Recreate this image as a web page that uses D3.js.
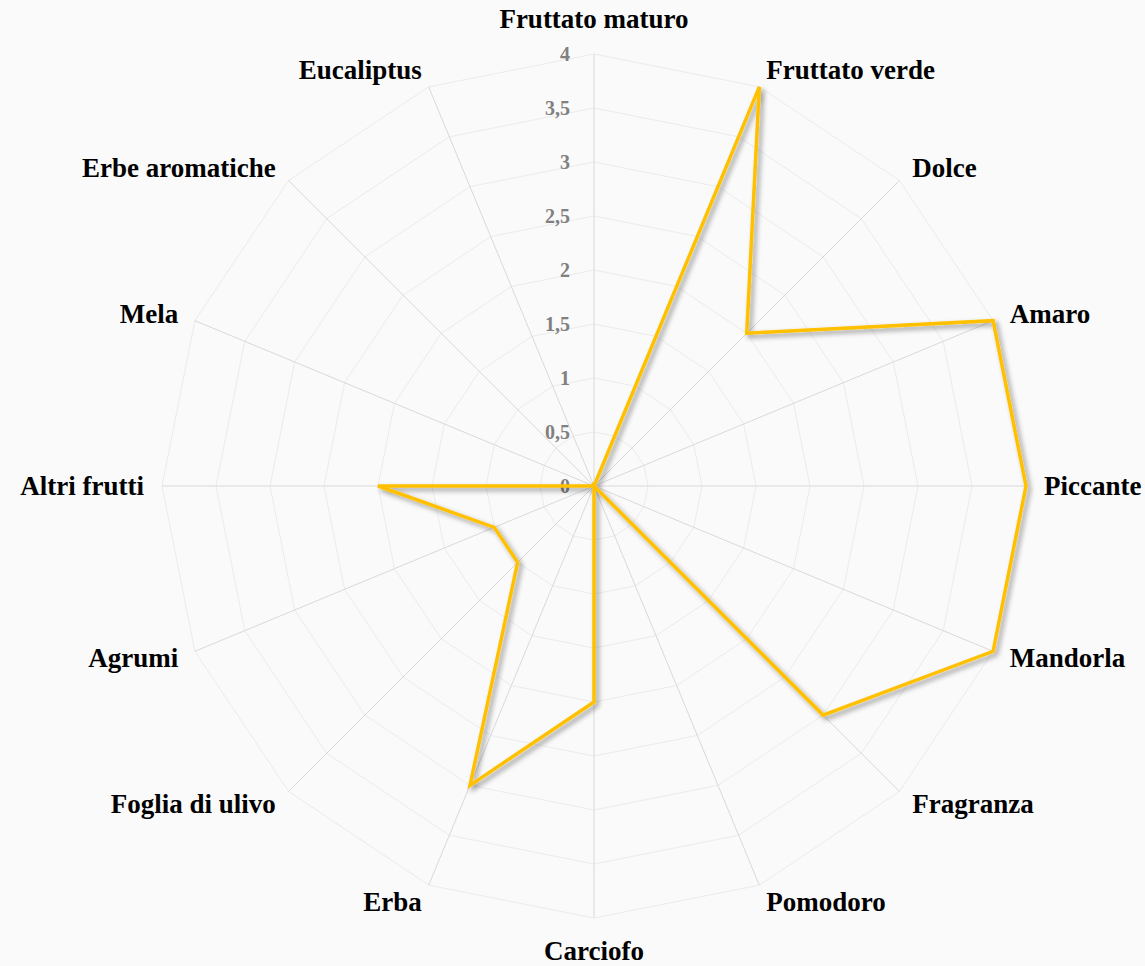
<!DOCTYPE html>
<html>
<head>
<meta charset="utf-8">
<script src="https://cdn.jsdelivr.net/npm/d3@7"></script>
<style>
  html, body { margin: 0; padding: 0; background: #fafafa; }
  svg { display: block; }
</style>
</head>
<body>
<svg id="radar" width="1145" height="966"></svg>
<script>
// Categories, clockwise from the top
var categories = ["Fruttato maturo", "Fruttato verde", "Dolce", "Amaro", "Piccante",
  "Mandorla", "Fragranza", "Pomodoro", "Carciofo", "Erba", "Foglia di ulivo",
  "Agrumi", "Altri frutti", "Mela", "Erbe aromatiche", "Eucaliptus"];

// Series values
var values = [0, 4, 2, 4, 4, 4, 3, 0, 2, 3, 1, 1, 2, 0, 0, 0];

// Tick values and labels
var ticks = [0, 0.5, 1, 1.5, 2, 2.5, 3, 3.5, 4];
var tickLabels = ["0", "0,5", "1", "1,5", "2", "2,5", "3", "3,5", "4"];

var svg = d3.select("#radar"),
    cx = 594,
    cy = 486,
    radius = 432;

var r = d3.scaleLinear().domain([0, 4]).range([0, radius]);
var angle = d3.scaleLinear().domain([0, categories.length]).range([0, 2 * Math.PI]);

function px(i, v) { return cx + r(v) * Math.sin(angle(i)); }
function py(i, v) { return cy - r(v) * Math.cos(angle(i)); }

// drop shadow for the series line
var defs = svg.append("defs");
var f = defs.append("filter").attr("id", "shadow")
    .attr("x", "-10%").attr("y", "-10%").attr("width", "120%").attr("height", "120%");
f.append("feDropShadow")
    .attr("dx", 3).attr("dy", 3).attr("stdDeviation", 2.5)
    .attr("flood-color", "#000").attr("flood-opacity", 0.4);

var g = svg.append("g");

// rings
var ringLine = d3.line().curve(d3.curveLinearClosed);
g.append("g").selectAll("path")
    .data(ticks.slice(1))
    .enter().append("path")
    .attr("d", function (t) {
        return ringLine(categories.map(function (c, i) { return [px(i, t), py(i, t)]; }));
    })
    .attr("fill", "none")
    .attr("stroke", "#ebebeb")
    .attr("stroke-width", 1);

// spokes
g.append("g").selectAll("line")
    .data(categories)
    .enter().append("line")
    .attr("x1", cx).attr("y1", cy)
    .attr("x2", function (d, i) { return px(i, 4); })
    .attr("y2", function (d, i) { return py(i, 4); })
    .attr("stroke", "#d9d9d9")
    .attr("stroke-width", 1);

// tick labels
g.append("g").selectAll("text")
    .data(ticks)
    .enter().append("text")
    .attr("x", cx - 24)
    .attr("y", function (t) { return cy - r(t); })
    .attr("dy", "0.35em")
    .attr("text-anchor", "end")
    .attr("font-family", "'Liberation Serif', 'Times New Roman', serif")
    .attr("font-weight", "bold")
    .attr("font-size", 20)
    .attr("fill", "#808080")
    .text(function (t, i) { return tickLabels[i]; });

// series
g.append("path")
    .datum(values)
    .attr("d", d3.line().curve(d3.curveLinearClosed)
        .x(function (v, i) { return px(i, v); })
        .y(function (v, i) { return py(i, v); }))
    .attr("fill", "none")
    .attr("stroke", "#ffc000")
    .attr("stroke-width", 3.5)
    .attr("stroke-linejoin", "miter")
    .attr("filter", "url(#shadow)");

// category labels
var labelR = 450;
g.append("g").selectAll("text")
    .data(categories)
    .enter().append("text")
    .attr("x", function (d, i) { return px(i, r.invert(labelR)); })
    .attr("y", function (d, i) {
        var y = py(i, r.invert(labelR));
        var c = Math.cos(angle(i));
        if (c > 0.99) return y - 8;
        if (c < -0.99) return y + 24;
        return y + 9;
    })
    .attr("text-anchor", function (d, i) {
        var s = Math.sin(angle(i));
        if (s > 0.01) return "start";
        if (s < -0.01) return "end";
        return "middle";
    })
    .attr("font-family", "'Liberation Serif', 'Times New Roman', serif")
    .attr("font-weight", "bold")
    .attr("font-size", 27)
    .attr("fill", "#000")
    .text(function (d) { return d; });
</script>
</body>
</html>
